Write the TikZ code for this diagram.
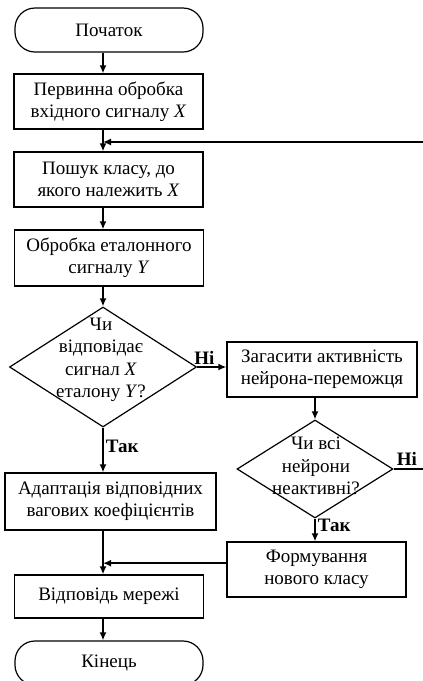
\documentclass[tikz,border=0pt]{standalone}
\usepackage{fontspec}
\setmainfont{Liberation Serif}
\usetikzlibrary{shapes.geometric,arrows.meta,calc}

\begin{document}
\begin{tikzpicture}[x=0.5pt,y=-0.5pt,
		every node/.style={font=\fontsize{9.5}{11.2}\selectfont},
		term/.style={draw, line width=0.6pt, rounded corners=10pt, minimum width=94pt, minimum height=22pt},
		proc/.style={draw, line width=0.6pt, align=center, minimum width=94.5pt, minimum height=27.5pt, inner sep=1pt},
		decision/.style={draw, line width=0.6pt, diamond, inner sep=0pt},
		dtext/.style={align=center, inner sep=0pt},
		conn/.style={line width=0.9pt, -{Latex[length=4pt,width=3.5pt]}},
		fbk/.style={line width=1.2pt, -{Latex[length=4pt,width=3.5pt]}},
		lbl/.style={font=\fontsize{9.5}{11}\selectfont\bfseries, inner sep=1pt}]
	\useasboundingbox (0,0) rectangle (423,681);

	% left column
	\coordinate (ax) at (103,0);
	\node[term] (start) at (109,30) {Початок};
	\node[proc] (prep) at (108.5,101.5) {Первинна обробка\\вхідного сигналу \textit{X}};
	\node[proc] (search) at (108.5,179.5) {Пошук класу, до\\якого належить \textit{X}};
	\node[proc, minimum height=28pt] (etal) at (109,258) {Обробка еталонного\\сигналу \textit{Y}};
	\node[decision, minimum width=93.5pt, minimum height=60pt] (d1) at (103,367) {};
	\node[dtext] (d1txt) at (101,360) {Чи\\відповідає\\сигнал \textit{X}\\еталону \textit{Y}?};
	\node[proc, minimum width=105.5pt, minimum height=28.5pt] (adapt) at (110.5,501.5) {Адаптація відповідних\\вагових коефіцієнтів};
	\node[proc, minimum height=21.5pt] (answer) at (109,596.5) {Відповідь мережі};
	\node[term] (end) at (109,663) {Кінець};

	% right column
	\node[proc, minimum width=95pt] (zagas) at (322,369.5) {Загасити активність\\нейрона-переможця};
	\node[decision, minimum width=78pt, minimum height=49pt] (d2) at (315,469) {};
	\node[dtext] (d2txt) at (316,466) {Чи всі\\нейрони\\неактивні?};
	\node[proc, minimum width=89.5pt] (form) at (316.5,569.5) {Формування\\нового класу};

	\coordinate (fb) at (103,142);

	\draw[conn] (ax |- start.south) -- (ax |- prep.north);
	\draw[conn] (ax |- prep.south) -- (ax |- search.north);
	\draw[conn] (ax |- search.south) -- (ax |- etal.north);
	\draw[conn] (ax |- etal.south) -- (d1.north);
	\draw[conn] (d1.east) -- node[lbl, above, pos=0.25] {Ні} (d1.east -| zagas.west);
	\draw[conn] (d1.south) -- node[lbl, right, pos=0.43] {Так} (ax |- adapt.north);
	\draw[conn] (ax |- adapt.south) -- (ax |- answer.north);
	\draw[conn] (ax |- answer.south) -- (ax |- end.north);

	\draw[conn] (d2.north |- zagas.south) -- (d2.north);
	\draw[conn] (d2.south) -- node[lbl, right, pos=0.3] {Так} (d2.south |- form.north);
	\draw[conn] (form.176) -- (ax |- form.176);
	\draw[fbk] (d2.east) -- node[lbl, pos=0, anchor=south west] {Ні} ++(60,0) |- (fb);
\end{tikzpicture}
\end{document}
